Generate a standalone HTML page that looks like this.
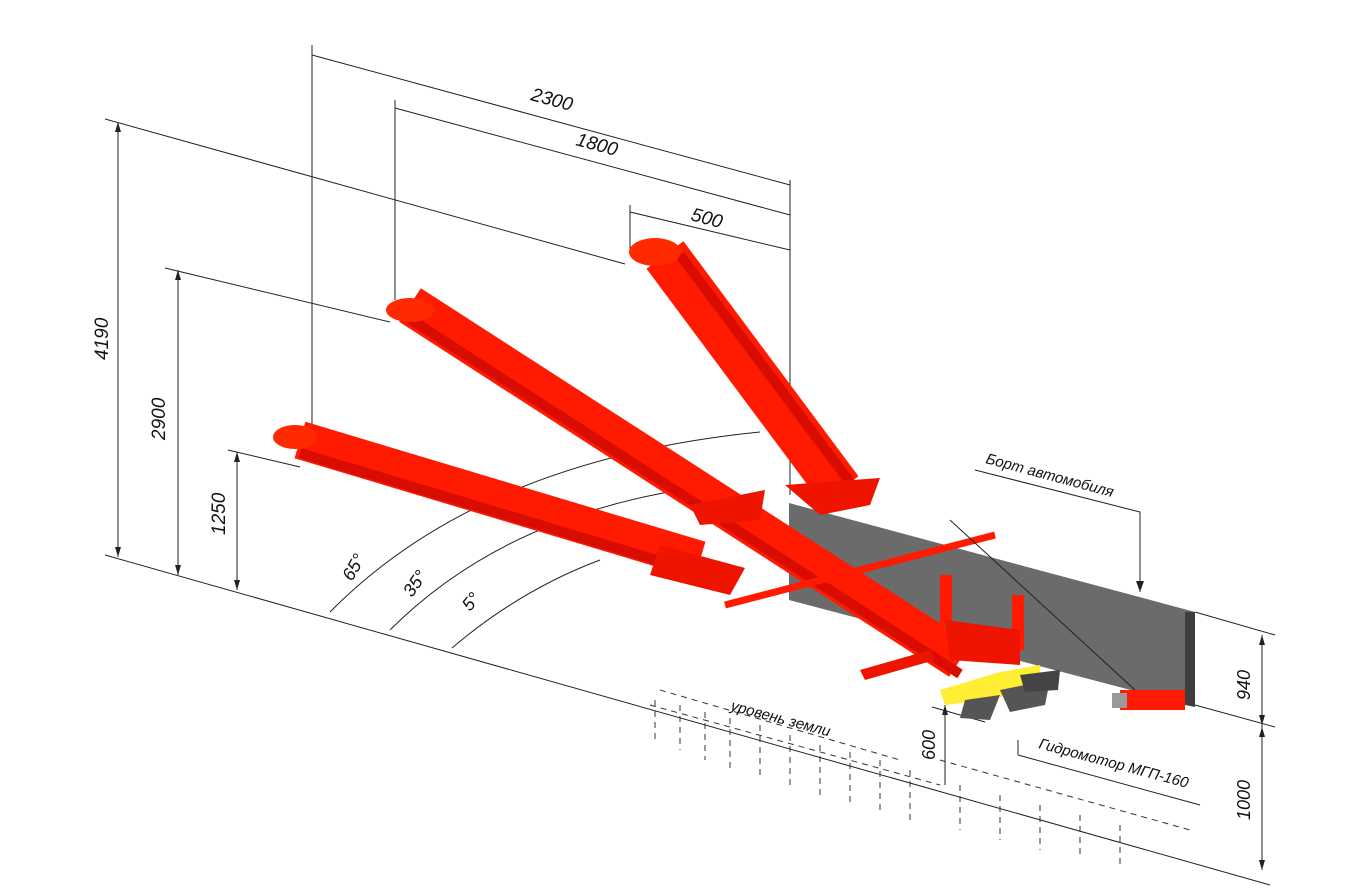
<!DOCTYPE html>
<html><head><meta charset="utf-8"><style>
html,body{margin:0;padding:0;background:#fff;}
svg{display:block;}
text{font-family:"Liberation Sans Narrow","Liberation Sans",sans-serif;font-style:italic;fill:#111;}
</style></head><body>
<svg width="1347" height="889" viewBox="0 0 1347 889" xmlns="http://www.w3.org/2000/svg">
<g stroke="#222" stroke-width="1" fill="none">
<line x1="105" y1="119" x2="625" y2="264"/>
<line x1="118" y1="122" x2="118" y2="557"/>
<line x1="165" y1="268" x2="390" y2="322"/>
<line x1="178" y1="270" x2="178" y2="575"/>
<line x1="228" y1="450" x2="300" y2="467"/>
<line x1="237" y1="452" x2="237" y2="590"/>
<line x1="105" y1="555" x2="1270" y2="885"/>
<line x1="312" y1="45" x2="312" y2="430"/>
<line x1="395" y1="100" x2="395" y2="300"/>
<line x1="630" y1="205" x2="630" y2="250"/>
<line x1="790" y1="180" x2="790" y2="495"/>
<line x1="312" y1="55" x2="790" y2="185"/>
<line x1="395" y1="108" x2="790" y2="215"/>
<line x1="630" y1="212" x2="790" y2="250"/>
<line x1="1195" y1="612" x2="1275" y2="635"/>
<line x1="1195" y1="705" x2="1275" y2="727"/>
<line x1="1262" y1="635" x2="1262" y2="870"/>
<path d="M330 612 Q480 460 760 432"/>
<path d="M390 630 Q500 520 680 490"/>
<path d="M452 648 Q520 590 600 560"/>
<path d="M975 470 L1140 512 L1140 592"/>
<line x1="932" y1="707" x2="985" y2="722"/>
<line x1="945" y1="705" x2="945" y2="785"/>
<line x1="1018" y1="740" x2="1018" y2="755"/>
<line x1="1018" y1="755" x2="1200" y2="805"/>
</g>
<g fill="#222">
<path d="M118 122 l-3 10 h6z"/><path d="M118 557 l-3 -10 h6z"/>
<path d="M178 270 l-3 10 h6z"/><path d="M178 575 l-3 -10 h6z"/>
<path d="M237 452 l-3 10 h6z"/><path d="M237 590 l-3 -10 h6z"/>
<path d="M1262 635 l-3 10 h6z"/><path d="M1262 725 l-3 -10 h6z"/><path d="M1262 727 l-3 10 h6z"/><path d="M1262 870 l-3 -10 h6z"/>
<path d="M1140 592 l-4 -11 h8z"/><path d="M945 705 l-3 10 h6z"/>
</g>
<g stroke="#333" stroke-width="1" stroke-dasharray="6 5">
<line x1="655" y1="700" x2="655" y2="740"/><line x1="680" y1="705" x2="680" y2="750"/><line x1="705" y1="712" x2="705" y2="760"/>
<line x1="730" y1="718" x2="730" y2="768"/><line x1="760" y1="725" x2="760" y2="775"/><line x1="790" y1="735" x2="790" y2="785"/>
<line x1="820" y1="745" x2="820" y2="795"/><line x1="850" y1="752" x2="850" y2="805"/><line x1="880" y1="760" x2="880" y2="812"/>
<line x1="910" y1="770" x2="910" y2="820"/><line x1="960" y1="785" x2="960" y2="830"/><line x1="1000" y1="795" x2="1000" y2="840"/>
<line x1="1040" y1="805" x2="1040" y2="850"/><line x1="1080" y1="815" x2="1080" y2="858"/><line x1="1120" y1="825" x2="1120" y2="865"/>
<line x1="660" y1="690" x2="900" y2="760"/><line x1="650" y1="705" x2="940" y2="785"/><line x1="940" y1="760" x2="1190" y2="830"/>
</g>
<polygon points="789,503 1195,612 1195,707 789,600" fill="#6b6b6b"/>
<polygon points="1185,612 1195,612 1195,707 1185,705" fill="#3e3e3e"/>
<g stroke-linecap="butt">
<line x1="300" y1="440" x2="700" y2="560" stroke="#ff1a00" stroke-width="38"/>
<line x1="300" y1="453" x2="700" y2="573" stroke="#d80c00" stroke-width="10"/>
<ellipse cx="295" cy="437" rx="22" ry="12" fill="#ff2a00"/>
<path d="M660 545 L745 568 L730 595 L650 575Z" fill="#ee1400"/>
<line x1="410" y1="305" x2="960" y2="660" stroke="#ff1a00" stroke-width="40"/>
<line x1="410" y1="319" x2="960" y2="674" stroke="#d80c00" stroke-width="10"/>
<ellipse cx="410" cy="310" rx="24" ry="12" fill="#ff2a00"/>
<line x1="665" y1="255" x2="840" y2="490" stroke="#ff1a00" stroke-width="46"/>
<line x1="680" y1="255" x2="852" y2="485" stroke="#d80c00" stroke-width="10"/>
<ellipse cx="655" cy="252" rx="26" ry="14" fill="#ff2a00"/>
<path d="M785 485 L880 478 L870 505 L820 515Z" fill="#ee1400"/>
<path d="M690 505 L765 490 L760 520 L700 525Z" fill="#ee1400"/>
</g>
<line x1="725" y1="605" x2="995" y2="535" stroke="#ff1a00" stroke-width="7"/>
<rect x="940" y="575" width="12" height="50" fill="#ff1a00"/>
<rect x="1012" y="595" width="12" height="55" fill="#ff1a00"/>
<path d="M945 620 L1020 630 L1020 665 L950 660Z" fill="#ee1400"/>
<path d="M860 670 L930 650 L935 660 L865 680Z" fill="#ee1400"/>
<path d="M940 690 L1000 672 L1040 665 L1040 690 L985 700 L945 705Z" fill="#ffee33"/>
<path d="M965 700 L1000 695 L990 720 L960 718Z" fill="#555"/>
<path d="M1000 690 L1050 680 L1045 705 L1010 712Z" fill="#555"/>
<path d="M1020 675 L1060 670 L1058 690 L1025 692Z" fill="#444"/>
<rect x="1120" y="690" width="65" height="20" fill="#ff1a00"/>
<rect x="1112" y="693" width="15" height="15" fill="#999"/>
<line x1="950" y1="520" x2="1135" y2="690" stroke="#222" stroke-width="1"/>
<text transform="translate(530,100) rotate(15)" font-size="19">2300</text>
<text transform="translate(575,145) rotate(15)" font-size="19">1800</text>
<text transform="translate(690,220) rotate(15)" font-size="19">500</text>
<text transform="translate(108,360) rotate(-90)" font-size="19">4190</text>
<text transform="translate(165,440) rotate(-90)" font-size="19">2900</text>
<text transform="translate(225,535) rotate(-90)" font-size="19">1250</text>
<text transform="translate(352,582) rotate(-60)" font-size="18">65°</text>
<text transform="translate(412,598) rotate(-55)" font-size="18">35°</text>
<text transform="translate(470,612) rotate(-50)" font-size="18">5°</text>
<text transform="translate(985,463) rotate(15)" font-size="15">Борт автомобиля</text>
<text transform="translate(730,710) rotate(15)" font-size="15">уровень земли</text>
<text transform="translate(1038,748) rotate(15)" font-size="15">Гидромотор МГП-160</text>
<text transform="translate(935,760) rotate(-90)" font-size="18">600</text>
<text transform="translate(1250,700) rotate(-90)" font-size="18">940</text>
<text transform="translate(1250,820) rotate(-90)" font-size="18">1000</text>
</svg>
</body></html>
